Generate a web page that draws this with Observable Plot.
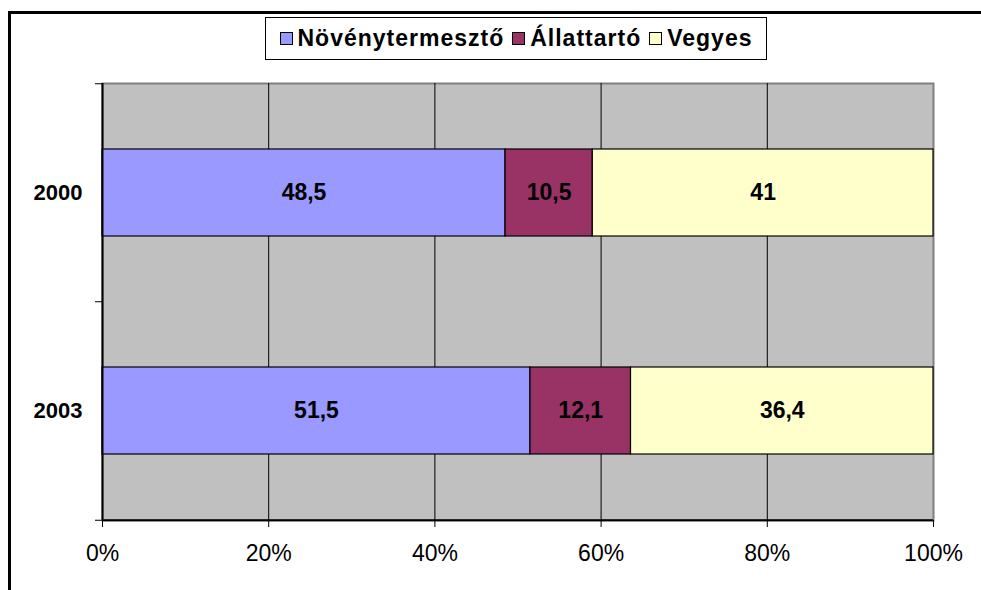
<!DOCTYPE html>
<html>
<head>
<meta charset="utf-8">
<script src="https://cdn.jsdelivr.net/npm/d3@7"></script>
<script src="https://cdn.jsdelivr.net/npm/@observablehq/plot@0.6"></script>
<style>
  html, body { margin: 0; padding: 0; background: #fff; }
  body { width: 981px; height: 590px; overflow: hidden; position: relative; font-family: "Liberation Sans", Arial, sans-serif; }
  #frame { position: absolute; left: 8px; top: 11px; width: 1000px; height: 600px; border-top: 3px solid #000; border-left: 3px solid #000; box-sizing: border-box; }
  #chart { position: absolute; left: 0; top: 0; }
  #legend { position: absolute; left: 265px; top: 17px; width: 502px; height: 43px; box-sizing: border-box; border: 1px solid #000; background: #fff;
            display: flex; align-items: center; justify-content: center; font-weight: bold; font-size: 23px; color: #000; letter-spacing: 1px; }
  .item { display: flex; align-items: center; margin: 0 4px; }
  .sw { width: 11px; height: 11px; border: 1px solid #000; margin-right: 5px; }
</style>
</head>
<body>
<div id="frame"></div>
<div id="chart"></div>
<div id="legend"></div>
<script>
const years = ["2000", "2003"];
const types = ["Növénytermesztő", "Állattartó", "Vegyes"];
const colors = ["#9999FF", "#993366", "#FFFFCC"];
const plant = [48.5, 51.5];
const animal = [10.5, 12.1];
const mixed = [41, 36.4];
const xTicks = [0, 20, 40, 60, 80, 100];

const series = [plant, animal, mixed];
const data = [];
years.forEach((y, i) => types.forEach((t, j) => data.push({year: y, type: t, value: series[j][i]})));
const fmt = v => String(v).replace(".", ",");

const W = 981, H = 590, mT = 83, mB = 70, mL = 102, mR = 48;
const pIn = 0.6, pOut = 0.3;
const step = (H - mT - mB) / (years.length - pIn + 2 * pOut);
const half = step / 2;

const chart = Plot.plot({
  width: W, height: H,
  marginLeft: mL, marginRight: mR, marginTop: mT, marginBottom: mB,
  style: {fontFamily: "'Liberation Sans', Arial, sans-serif", background: "transparent", color: "#000", overflow: "visible"},
  x: {domain: [0, 100], label: null},
  y: {domain: years, paddingInner: pIn, paddingOuter: pOut, label: null},
  color: {domain: types, range: colors},
  marks: [
    Plot.frame({fill: "#C0C0C0", stroke: "#808080", strokeWidth: 2}),
    Plot.ruleX(xTicks.slice(1, -1), {stroke: "#000", strokeWidth: 1}),
    Plot.barX(data, {x: "value", y: "year", fill: "type", stroke: "#000", strokeWidth: 1.2}),
    Plot.text(data, Plot.stackX({x: "value", y: "year", z: "type", text: d => fmt(d.value),
      fontWeight: "bold", fontSize: 23, fill: "#000"})),
    Plot.ruleX([0], {stroke: "#000", strokeWidth: 2}),
    Plot.ruleY([years[years.length - 1]], {x1: 0, x2: 100, dy: half, stroke: "#000", strokeWidth: 2}),
    Plot.axisX({ticks: xTicks, tickFormat: d => d + "%", tickSize: 7, tickPadding: 17, fontSize: 23, stroke: "#000", fill: "#000", label: null}),
    Plot.axisY({tickSize: 0, tickPadding: 20, fontSize: 22, fontWeight: "bold", fill: "#000", label: null}),
    Plot.axisY({tickSize: 7, fill: "none", stroke: "#000", dy: -half, label: null}),
    Plot.axisY([years[years.length - 1]], {tickSize: 7, fill: "none", stroke: "#000", dy: half, label: null})
  ]
});
document.getElementById("chart").appendChild(chart);

const legend = document.getElementById("legend");
types.forEach((t, i) => {
  const it = document.createElement("div");
  it.className = "item";
  const sw = document.createElement("div");
  sw.className = "sw";
  sw.style.background = colors[i];
  const tx = document.createElement("span");
  tx.textContent = t;
  it.appendChild(sw);
  it.appendChild(tx);
  legend.appendChild(it);
});
</script>
</body>
</html>
